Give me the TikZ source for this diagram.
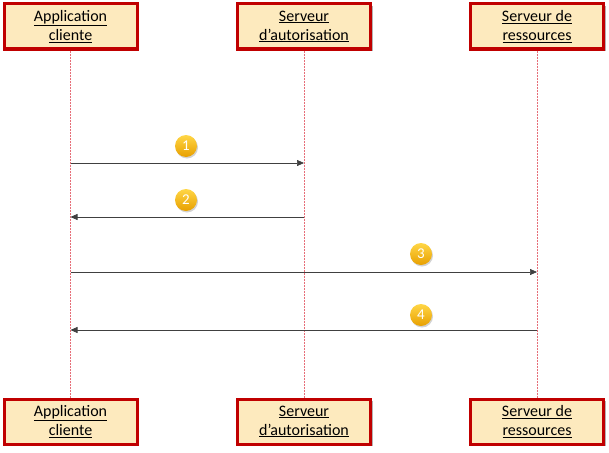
\documentclass[tikz,border=0pt]{standalone}
\usepackage{fontspec}
\setmainfont{Carlito}
\usetikzlibrary{arrows.meta, shadows}

\definecolor{boxfill}{RGB}{253,234,190}
\definecolor{boxline}{RGB}{192,0,0}
\definecolor{lifeline}{RGB}{230,110,120}
\definecolor{goldtop}{RGB}{255,214,70}
\definecolor{goldbot}{RGB}{232,160,0}

\begin{document}
\begin{tikzpicture}[x=1pt, y=-1pt,
    actor/.style={draw=boxline, line width=3pt, fill=boxfill,
        minimum width=133pt, minimum height=45pt, align=center,
        font=\fontsize{16}{19}\selectfont,
        drop shadow={shadow xshift=2pt, shadow yshift=-2pt, opacity=0.6}},
    life/.style={draw=lifeline, line width=0.5pt, densely dotted},
    msg/.style={draw=black!75, line width=0.7pt, -{Triangle[length=7pt,width=6pt]}},
    num/.style={circle, minimum size=22pt, inner sep=0pt, text=white,
        top color=goldtop, bottom color=goldbot, draw=none,
        font=\fontsize{15}{15}\selectfont,
        drop shadow={shadow xshift=1pt, shadow yshift=-1.5pt, opacity=0.35}}]
    \useasboundingbox (0,0) rectangle (609,452);

    \node[actor] at (70.5,26.5)  (app)  {\underline{Application}\\\underline{cliente}};
    \node[actor] at (304,26.5)   (auth) {\underline{Serveur}\\\underline{d’autorisation}};
    \node[actor] at (537,26.5)   (res)  {\underline{Serveur de}\\\underline{ressources}};
    \node[actor] at (70.5,421.5) (app2)  {\underline{Application}\\\underline{cliente}};
    \node[actor] at (304,421.5)  (auth2) {\underline{Serveur}\\\underline{d’autorisation}};
    \node[actor] at (537,421.5)  (res2)  {\underline{Serveur de}\\\underline{ressources}};

    \draw[life] (app) -- (app2);
    \draw[life] (auth) -- (auth2);
    \draw[life] (res) -- (res2);

    % message points on the lifelines
    \coordinate (a1) at (70.5,163);
    \coordinate (b1) at (304,163);
    \coordinate (a2) at (70.5,217);
    \coordinate (b2) at (304,217);
    \coordinate (a3) at (70.5,272);
    \coordinate (c3) at (537,272);
    \coordinate (a4) at (70.5,330);
    \coordinate (c4) at (537,330);

    \draw[msg] (a1) -- (b1);
    \draw[msg] (b2) -- (a2);
    \draw[msg] (a3) -- (c3);
    \draw[msg] (c4) -- (a4);

    \node[num] at (186,146) (n1) {1};
    \node[num] at (186,200) (n2) {2};
    \node[num] at (421,254) (n3) {3};
    \node[num] at (421,315) (n4) {4};
\end{tikzpicture}
\end{document}
